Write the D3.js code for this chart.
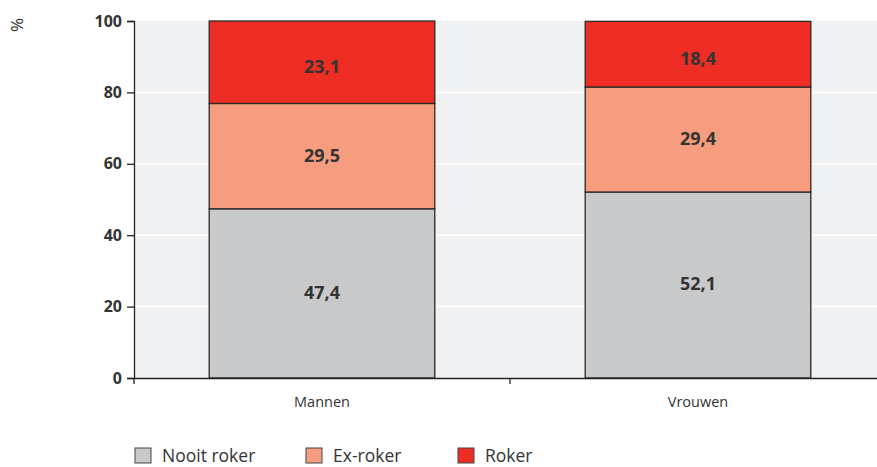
<!DOCTYPE html>
<html>
<head>
<meta charset="utf-8">
<script src="https://cdnjs.cloudflare.com/ajax/libs/d3/7.8.5/d3.min.js"></script>
<style>
  body { margin: 0; background: #fff; }
  svg { display: block; font-family: "Open Sans", Lato, sans-serif; }
</style>
</head>
<body>
<svg width="877" height="467"></svg>
<script>
const categorieen = ['Mannen', 'Vrouwen'];
const reeksen = ['Nooit roker', 'Ex-roker', 'Roker'];
const nooitRoker = [47.4, 52.1];
const exRoker = [29.5, 29.4];
const roker = [23.1, 18.4];
const yTicks = [0, 20, 40, 60, 80, 100];
const kleuren = ['#c8c9cb', '#f59d7e', '#ee2e24'];

const svg = d3.select('svg');
const marg = { links: 134, boven: 21, onder: 89 };
const breedte = 886 - marg.links;
const hoogte = 467 - marg.boven - marg.onder;

const data = categorieen.map((c, i) => ({
    cat: c,
    'Nooit roker': nooitRoker[i],
    'Ex-roker': exRoker[i],
    'Roker': roker[i]
}));

const stapels = d3.stack().keys(reeksen)(data);

const x = d3.scaleBand().domain(categorieen).range([0, breedte]).paddingInner(0.4).paddingOuter(0.2);
const y = d3.scaleLinear().domain([0, 100]).range([hoogte, 0]);
const kleur = d3.scaleOrdinal().domain(reeksen).range(kleuren);

const g = svg.append('g').attr('transform', `translate(${marg.links},${marg.boven})`);

// achtergrond
g.append('rect')
    .attr('x', 0).attr('y', 0)
    .attr('width', breedte).attr('height', hoogte)
    .attr('fill', '#f0f1f3');

// rasterlijnen
g.selectAll('.raster').data(yTicks.filter(t => t > 0 && t < 100))
    .enter().append('line')
    .attr('x1', 0).attr('x2', breedte)
    .attr('y1', d => y(d)).attr('y2', d => y(d))
    .attr('stroke', '#fff').attr('stroke-width', 1.5);

// balken
const laag = g.selectAll('.laag').data(stapels)
    .enter().append('g')
    .attr('fill', d => kleur(d.key));

laag.selectAll('rect').data(d => d)
    .enter().append('rect')
    .attr('x', d => x(d.data.cat))
    .attr('y', d => y(d[1]))
    .attr('width', x.bandwidth())
    .attr('height', d => y(d[0]) - y(d[1]))
    .attr('stroke', '#2a2a2a')
    .attr('stroke-width', 1.3);

laag.selectAll('text').data(d => d)
    .enter().append('text')
    .attr('x', d => x(d.data.cat) + x.bandwidth() / 2)
    .attr('y', d => (y(d[0]) + y(d[1])) / 2)
    .attr('dy', d => d[1] > 99 ? '0.6em' : '0.3em')
    .attr('text-anchor', 'middle')
    .attr('fill', '#333')
    .attr('font-size', 18)
    .attr('font-weight', 'bold')
    .text(d => d3.format('.1f')(d[1] - d[0]).replace('.', ','));

// y-as
const yAs = g.append('g')
    .call(d3.axisLeft(y).tickValues(yTicks).tickSize(7).tickPadding(5));
yAs.select('.domain').attr('stroke', '#222').attr('stroke-width', 1.3);
yAs.selectAll('.tick line').attr('stroke', '#222').attr('stroke-width', 1.3);
yAs.selectAll('text')
    .attr('font-size', 16).attr('font-weight', 'bold')
    .attr('fill', '#333').attr('font-family', '"Open Sans", sans-serif');

// x-as
const xAs = g.append('g')
    .attr('transform', `translate(0,${hoogte})`)
    .call(d3.axisBottom(x).tickSize(0).tickPadding(19));
xAs.select('.domain').attr('stroke', '#222').attr('stroke-width', 1.3);
xAs.selectAll('text')
    .attr('font-size', 14.5).attr('fill', '#333')
    .attr('font-family', '"Open Sans", sans-serif');

// scheidingsstreepjes op de x-as
g.selectAll('.sep').data([0, x(categorieen[1]) - x.step() * x.paddingInner() / 2])
    .enter().append('line')
    .attr('x1', d => d).attr('x2', d => d)
    .attr('y1', hoogte).attr('y2', hoogte + 6)
    .attr('stroke', '#222').attr('stroke-width', 1.3);

// eenheid
svg.append('text')
    .attr('transform', 'translate(23,25) rotate(-90)')
    .attr('text-anchor', 'middle')
    .attr('font-size', 17)
    .attr('fill', '#333')
    .text('%');

// legenda
const legPos = [135, 306, 458];
const leg = svg.selectAll('.leg').data(reeksen)
    .enter().append('g')
    .attr('transform', (d, i) => `translate(${legPos[i]},448)`);
leg.append('rect')
    .attr('width', 16).attr('height', 15)
    .attr('fill', d => kleur(d))
    .attr('stroke', '#444').attr('stroke-width', 1);
leg.append('text')
    .attr('x', 27).attr('y', 14)
    .attr('font-size', 17.5)
    .attr('fill', '#333')
    .text(d => d);
</script>
</body>
</html>
